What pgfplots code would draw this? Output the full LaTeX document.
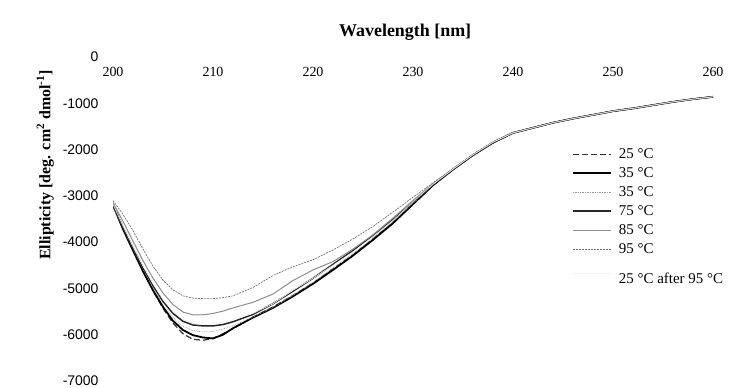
\documentclass[border=0pt]{standalone}
\usepackage{fontspec}
\setmainfont{Liberation Serif}
\newfontfamily\sansf{Liberation Sans}
\usepackage{pgfplots}
\pgfplotsset{compat=1.18}
\usepackage{pgfplotstable}

\pgfplotstableread{
x    c25    c35    c35b   c75    c85    c95    c25a
200  -3150  -3200  -3250  -3200  -3150  -3100  -3180
201  -3680  -3720  -3700  -3680  -3550  -3400  -3650
202  -4150  -4180  -4150  -4120  -3980  -3750  -4100
203  -4620  -4630  -4580  -4550  -4400  -4150  -4520
204  -5050  -5040  -4980  -4940  -4780  -4520  -4900
205  -5430  -5400  -5340  -5280  -5100  -4820  -5240
206  -5750  -5700  -5630  -5540  -5350  -5030  -5500
207  -5980  -5900  -5820  -5710  -5510  -5160  -5670
208  -6100  -6010  -5910  -5790  -5570  -5210  -5750
209  -6120  -6060  -5940  -5810  -5570  -5220  -5770
210  -6080  -6080  -5930  -5810  -5540  -5220  -5760
211  -5980  -6000  -5880  -5780  -5490  -5200  -5730
212  -5870  -5860  -5810  -5720  -5420  -5160  -5680
214  -5620  -5630  -5620  -5560  -5300  -4980  -5540
216  -5400  -5420  -5410  -5330  -5120  -4720  -5330
218  -5150  -5170  -5150  -5060  -4830  -4530  -5040
220  -4880  -4900  -4870  -4780  -4600  -4380  -4780
222  -4580  -4600  -4560  -4480  -4420  -4170  -4500
224  -4280  -4290  -4250  -4180  -4150  -3930  -4210
226  -3930  -3950  -3910  -3860  -3840  -3660  -3880
228  -3580  -3590  -3550  -3510  -3480  -3350  -3530
230  -3180  -3180  -3160  -3130  -3100  -3030  -3130
232  -2770  -2770  -2760  -2750  -2740  -2720  -2750
234  -2430  -2430  -2430  -2430  -2420  -2410  -2420
236  -2120  -2120  -2120  -2120  -2110  -2100  -2110
238  -1850  -1850  -1850  -1850  -1840  -1830  -1840
240  -1640  -1640  -1640  -1640  -1640  -1630  -1640
242  -1530  -1530  -1530  -1530  -1530  -1530  -1530
244  -1420  -1420  -1420  -1420  -1420  -1420  -1420
246  -1330  -1330  -1330  -1330  -1330  -1330  -1330
248  -1250  -1250  -1250  -1250  -1250  -1250  -1250
250  -1170  -1170  -1170  -1170  -1170  -1170  -1170
252  -1110  -1110  -1110  -1110  -1110  -1110  -1110
254  -1040  -1040  -1040  -1040  -1040  -1040  -1040
256   -970   -970   -970   -970   -970   -970   -970
258   -910   -910   -910   -910   -910   -910   -910
260   -860   -860   -860   -860   -860   -860   -860
}\cd

\begin{document}
\begin{tikzpicture}
\path[use as bounding box] (0,0) rectangle (751bp,388bp);
\begin{axis}[
  at={(113bp,7bp)}, anchor=south west,
  scale only axis, width=600bp, height=324bp,
  xmin=200, xmax=260, ymin=-7000, ymax=0,
  axis line style={draw=none},
  major tick length=0pt,
  xticklabel pos=upper, yticklabel pos=left,
  xtick={200,210,...,260},
  ytick={-7000,-6000,-5000,-4000,-3000,-2000,-1000,0},
  yticklabels={-7000,-6000,-5000,-4000,-3000,-2000,-1000,0},
  /pgf/number format/assume math mode=true,
  x tick label style={font=\fontsize{14}{14}\selectfont, anchor=north, yshift=-7bp},
  y tick label style={font=\fontsize{14}{14}\sansf, anchor=east, xshift=-11bp},
  title={Wavelength [nm]},
  title style={font=\fontsize{18}{18}\selectfont\bfseries, at={(axis description cs:0.487,1)}, anchor=south, yshift=7bp},
  ylabel={Ellipticity [deg. cm\textsuperscript{2} dmol\textsuperscript{-1}]},
  ylabel style={font=\fontsize{16}{16}\selectfont\bfseries, at={(axis description cs:-0.113,0.667)}, anchor=center},
  legend style={at={(axis description cs:0.76,0.727)}, anchor=north west, draw=none, fill=none,
    font=\fontsize{15}{15}\selectfont, row sep=5.5bp, column sep=6bp, nodes={inner sep=1bp}},
  legend cell align=left,
  legend image code/.code={\draw[#1] (0bp,0bp) -- (38bp,0bp);},
]
\addplot[black!80, line width=1.2bp, dash pattern=on 6bp off 3bp] table[x=x,y=c25]{\cd};
\addlegendentry{25 °C}
\addplot[black, line width=1.8bp] table[x=x,y=c35]{\cd};
\addlegendentry{35 °C}
\addplot[black!40, line width=0.7bp, densely dotted] table[x=x,y=c35b]{\cd};
\addlegendentry{35 °C}
\addplot[black!85, line width=1.5bp] table[x=x,y=c75]{\cd};
\addlegendentry{75 °C}
\addplot[black!45, line width=1bp] table[x=x,y=c85]{\cd};
\addlegendentry{85 °C}
\addplot[black!55, line width=0.7bp, dash pattern=on 2bp off 1bp] table[x=x,y=c95]{\cd};
\addlegendentry{95 °C}
\addplot[black!6, line width=0.6bp] table[x=x,y=c25a]{\cd};
\addlegendentry{\rule{0pt}{21bp}25 °C after 95 °C}
\end{axis}
\end{tikzpicture}
\end{document}
